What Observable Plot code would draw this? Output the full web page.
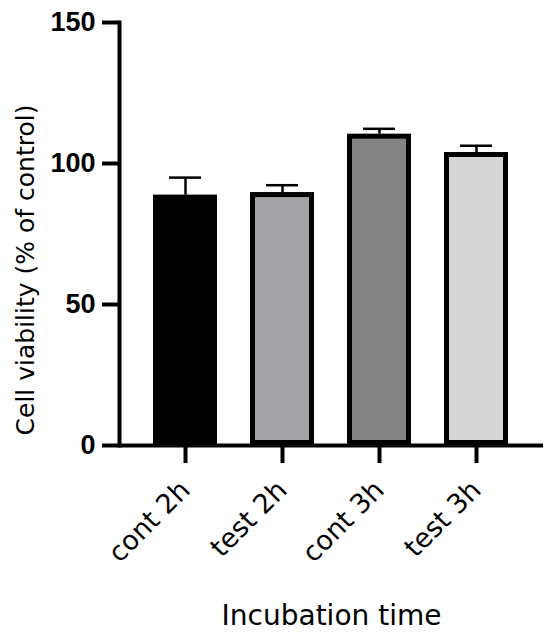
<!DOCTYPE html>
<html>
<head>
<meta charset="utf-8">
<script src="https://cdn.jsdelivr.net/npm/d3@7"></script>
<script src="https://cdn.jsdelivr.net/npm/@observablehq/plot@0.6"></script>
<style>
  html, body { margin: 0; padding: 0; background: #fff; }
  #chart svg { display: block; }
</style>
</head>
<body>
<div id="chart"></div>
<script>
const groups = ["cont 2h", "test 2h", "cont 3h", "test 3h"];
const means = [88.8, 89.7, 110.4, 103.9];
const sds = [6.2, 2.6, 1.9, 2.4];
const fills = ["#000000", "#a3a2a7", "#838383", "#d5d5d5"];
const yTicks = [0, 50, 100, 150];
const xTitle = "Incubation time";
const yTitle = "Cell viability (% of control)";

const data = groups.map((g, i) => ({group: g, mean: means[i], sd: sds[i], fill: fills[i]}));

const chart = Plot.plot({
  width: 550,
  height: 642,
  marginTop: 22,
  marginRight: 7,
  marginBottom: 197,
  marginLeft: 119,
  style: {background: "#fff", color: "#000"},
  x: {domain: groups, paddingInner: 0.34, paddingOuter: 0.34, label: null},
  y: {domain: [0, 150], label: null},
  color: {type: "identity"},
  marks: [
    Plot.ruleX(data, {x: "group", y1: "mean", y2: d => d.mean + d.sd, stroke: "#000", strokeWidth: 2.5}),
    Plot.barY(data, {x: "group", y: "mean", fill: "fill", stroke: "#000", strokeWidth: 5, inset: 2.5}),
    Plot.tickY(data, {x: "group", y: d => d.mean + d.sd, stroke: "#000", strokeWidth: 2.5, insetLeft: 16, insetRight: 16}),
    Plot.frame({anchor: "left", stroke: "#000", strokeWidth: 4}),
    Plot.ruleY([0], {stroke: "#000", strokeWidth: 4}),
    Plot.axisY({ticks: yTicks, tickSize: 17, tickPadding: 7, strokeWidth: 4, fontSize: 27, fontWeight: "bold", fontFamily: "Liberation Sans, Arial, sans-serif", label: null}),
    Plot.axisX({tickSize: 18, tickPadding: 22, strokeWidth: 4, tickRotate: -45, fontSize: 27, fontFamily: "DejaVu Sans, sans-serif", label: null}),
    Plot.text([xTitle], {frameAnchor: "bottom", text: d => d, textAnchor: "middle", dy: 179, fontSize: 28, fontFamily: "DejaVu Sans, sans-serif", fill: "#000"}),
    Plot.text([yTitle], {frameAnchor: "left", text: d => d, textAnchor: "middle", rotate: -90, dx: -94, dy: 36, fontSize: 25, fontFamily: "DejaVu Sans, sans-serif", fill: "#000"})
  ]
});
document.getElementById("chart").appendChild(chart);
</script>
</body>
</html>
